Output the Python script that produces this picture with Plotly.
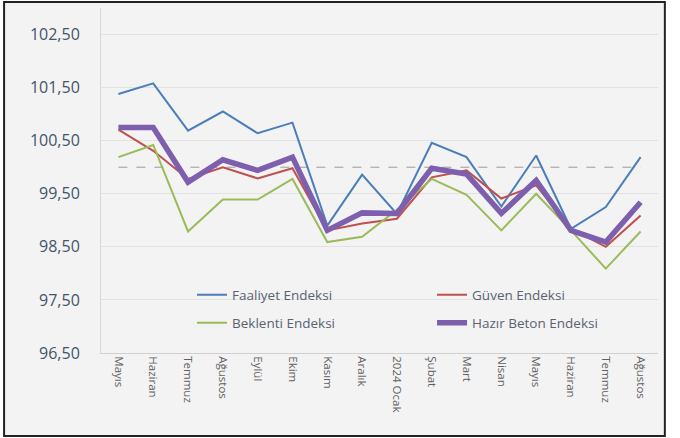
import plotly.graph_objects as go

months = ["Mayıs", "Haziran", "Temmuz", "Ağustos", "Eylül", "Ekim", "Kasım", "Aralık",
          "2024 Ocak", "Şubat", "Mart", "Nisan", "Mayıs ", "Haziran ", "Temmuz ", "Ağustos "]
faaliyet = [101.38, 101.58, 100.69, 101.05, 100.64, 100.84, 98.90, 99.86,
            99.12, 100.46, 100.19, 99.26, 100.22, 98.84, 99.25, 100.19]
guven = [100.71, 100.31, 99.78, 100.00, 99.79, 99.98, 98.81, 98.94,
         99.03, 99.81, 99.94, 99.41, 99.66, 98.84, 98.50, 99.09]
beklenti = [100.19, 100.42, 98.79, 99.39, 99.39, 99.78, 98.59, 98.69,
            99.20, 99.78, 99.48, 98.81, 99.50, 98.81, 98.09, 98.79]
hazir_beton = [100.75, 100.75, 99.72, 100.14, 99.94, 100.19, 98.81, 99.14,
               99.13, 99.98, 99.87, 99.13, 99.75, 98.81, 98.59, 99.34]
baseline = [100.0] * len(months)
ytick_vals = [96.5, 97.5, 98.5, 99.5, 100.5, 101.5, 102.5]
ytick_text = ["96,50", "97,50", "98,50", "99,50", "100,50", "101,50", "102,50"]

fig = go.Figure()
fig.add_trace(go.Scatter(x=months, y=baseline, mode="lines", showlegend=False,
                         line=dict(color="#9a9a9a", width=1, dash="dash"), hoverinfo="skip"))
fig.add_trace(go.Scatter(x=months, y=faaliyet, mode="lines", name="Faaliyet Endeksi",
                         line=dict(color="#4a7ebb", width=2), legend="legend"))
fig.add_trace(go.Scatter(x=months, y=guven, mode="lines", name="Güven Endeksi",
                         line=dict(color="#c0504d", width=2), legend="legend"))
fig.add_trace(go.Scatter(x=months, y=beklenti, mode="lines", name="Beklenti Endeksi",
                         line=dict(color="#9bbb59", width=2), legend="legend2"))
fig.add_trace(go.Scatter(x=months, y=hazir_beton, mode="lines", name="Hazır Beton Endeksi",
                         line=dict(color="#7d5fae", width=5.5), legend="legend2"))

L, R, T, B = 101, 10, 8, 85
W, H = 680, 438
pw, ph = W - L - R, H - T - B
def px(xp):
    return (xp - L) / pw
def py(yp):
    return (H - B - yp) / ph

legend_common = dict(orientation="h", bgcolor="rgba(0,0,0,0)", entrywidth=195,
                     entrywidthmode="pixels", xanchor="left", yanchor="middle",
                     font=dict(family="Open Sans", size=13.5, color="#5a6272"),
                     itemwidth=30)

fig.update_layout(
    width=W, height=H,
    margin=dict(l=L, r=R, t=T, b=B),
    paper_bgcolor="white",
    plot_bgcolor="#f3f3f3",
    legend=dict(x=px(194), y=py(295), **legend_common),
    legend2=dict(x=px(194), y=py(323), **legend_common),
    xaxis=dict(type="category", tickangle=90, showgrid=False, showline=True,
               linecolor="#d0d0d0", linewidth=1, ticks="",
               tickfont=dict(family="Open Sans", size=11.5, color="#5f5f5f"),
               range=[-0.5, len(months) - 0.5]),
    yaxis=dict(range=[96.5, 103], tickvals=ytick_vals, ticktext=ytick_text,
               showgrid=True, gridcolor="#e2e2e2", gridwidth=1, zeroline=False,
               showline=True, linecolor="#d8d8d8", linewidth=1, ticks="",
               ticklabelstandoff=17,
               tickfont=dict(family="Open Sans", size=16, color="#44546a")),
    shapes=[
        dict(type="rect", xref="paper", yref="paper", layer="below",
             x0=px(2), x1=px(677), y0=py(436), y1=py(2),
             fillcolor="#f3f3f3", line=dict(width=0)),
        dict(type="rect", xref="paper", yref="paper", layer="above",
             x0=px(2), x1=px(677), y0=py(436), y1=py(2),
             fillcolor="rgba(0,0,0,0)", line=dict(color="#222222", width=2)),
    ],
)

fig.write_html(
    "out.html",
    config={"displayModeBar": False},
    post_script="document.body.style.margin='0';document.body.style.overflow='hidden';",
)
